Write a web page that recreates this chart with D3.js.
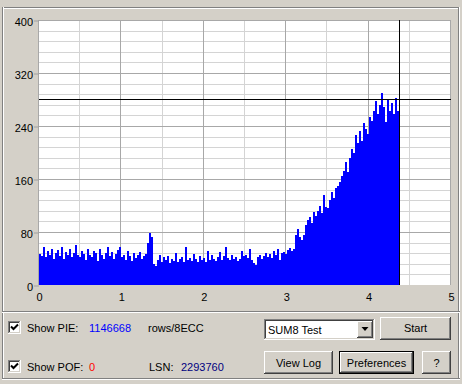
<!DOCTYPE html>
<html>
<head>
<meta charset="utf-8">
<script src="https://cdn.jsdelivr.net/npm/d3@7/dist/d3.min.js"></script>
<style>
  body { margin: 0; background: #d4d0c8; overflow: hidden; }
  svg text { font-family: "Liberation Sans", Arial, sans-serif; font-size: 11px; fill: #000; }
</style>
</head>
<body>
<div id="chart"></div>
<script>
// PIE counts per sample block (one value per ~0.024 of the x axis)
const pieValues = [
    47, 44, 57, 42, 52, 45, 55, 40, 48, 53, 44, 58, 39, 50, 46, 54, 42, 49, 60, 45,
    43, 51, 47, 38, 55, 46, 42, 52, 49, 36, 54, 45, 40, 48, 57, 44, 50, 39, 47, 53,
    58, 42, 46, 38, 52, 44, 36, 48, 41, 45, 50, 39, 44, 47,
    64, 79, 72,
    32, 28, 38, 46, 34, 42, 37, 44, 33, 40, 36, 48, 35, 39, 43, 34, 58, 38, 41, 36, 47, 40, 35,
    44, 37, 41, 35, 52, 38, 46, 40, 36, 42, 50, 38, 44, 57, 41, 37, 45, 39, 43, 36, 40, 52, 44, 46, 41, 55,
    38, 33, 30, 42, 46, 40, 44, 48, 43, 47, 41, 52, 45, 55, 38, 49,
    50, 47, 53, 56, 51, 54,
    76, 84, 72, 68, 75,
    90, 98, 103, 94, 110, 104,
    112, 120, 108, 136, 118, 116,
    128, 140, 132, 146, 150,
    155, 164, 172, 186, 170,
    192, 206, 200, 226, 214,
    232, 218, 244, 236, 228,
    254, 248, 262, 278, 258,
    272, 290, 268, 246, 280,
    262, 274, 258, 282, 262
];
const scanEnd = 4.375;          // last position read
const yTicks = [0, 80, 160, 240, 320, 400];
const xTicks = [0, 1, 2, 3, 4, 5];
const cursor = { x: 4.375, y: 280 };
const pieTotal = '1146668';
const pofTotal = '0';
const lsnValue = '2293760';
const testName = 'SUM8 Test';

const W = 462, H = 384;
const svg = d3.select('#chart').append('svg')
    .attr('width', W)
    .attr('height', H)
    .style('display', 'block');

svg.append('rect').attr('width', W).attr('height', H).attr('fill', '#d4d0c8');

// little helpers for the windows-style 3d edges
function px(g, x, y, w, h, c) {
    g.append('rect').attr('x', x).attr('y', y).attr('width', w).attr('height', h).attr('fill', c);
}
function raised(g, x, y, w, h) {
    px(g, x, y, w, h, '#d4d0c8');
    px(g, x, y, w - 1, 1, '#ffffff');
    px(g, x, y, 1, h - 1, '#ffffff');
    px(g, x, y + h - 1, w, 1, '#404040');
    px(g, x + w - 1, y, 1, h, '#404040');
    px(g, x + 1, y + h - 2, w - 2, 1, '#808080');
    px(g, x + w - 2, y + 1, 1, h - 2, '#808080');
}
function sunken(g, x, y, w, h) {
    px(g, x, y, w, h, '#ffffff');
    px(g, x, y, w - 1, 1, '#808080');
    px(g, x, y, 1, h - 1, '#808080');
    px(g, x + 1, y + 1, w - 3, 1, '#404040');
    px(g, x + 1, y + 1, 1, h - 3, '#404040');
    px(g, x + 1, y + h - 2, w - 2, 1, '#d4d0c8');
    px(g, x + w - 2, y + 1, 1, h - 2, '#d4d0c8');
}
function etchedH(g, x, y, w) {
    px(g, x, y, w, 1, '#808080');
    px(g, x, y + 1, w, 1, '#ffffff');
}
function etchedV(g, x, y, h) {
    px(g, x, y, 1, h, '#808080');
    px(g, x + 1, y, 1, h, '#ffffff');
}

// Outer frame + separator between chart and controls
const frame = svg.append('g');
etchedH(frame, 2, 7, 458);
etchedV(frame, 2, 7, 372);
etchedV(frame, 458, 7, 373);
etchedH(frame, 2, 378, 458);
etchedH(frame, 2, 311, 458);

// Scales
const x = d3.scaleLinear().domain([0, 5]).range([39, 451]);
const y = d3.scaleLinear().domain([0, 400]).range([285, 20]);

// Plot background
svg.append('rect')
    .attr('x', x(0))
    .attr('y', y(400))
    .attr('width', x(5) - x(0))
    .attr('height', y(0) - y(400))
    .attr('fill', '#ffffff');

// Grid: minor every 16 / 0.5, major on the labelled ticks
const grid = svg.append('g').attr('shape-rendering', 'crispEdges');
const snap = v => Math.round(v) - 0.5;

grid.selectAll('.hminor')
    .data(d3.range(0, 401, 16).filter(v => v % 80 !== 0))
    .join('line')
    .attr('x1', x(0)).attr('x2', x(5))
    .attr('y1', d => snap(y(d)) + 1).attr('y2', d => snap(y(d)) + 1)
    .attr('stroke', '#d4d4d4');

grid.selectAll('.vminor')
    .data(d3.range(0.5, 5, 1))
    .join('line')
    .attr('x1', d => snap(x(d))).attr('x2', d => snap(x(d)))
    .attr('y1', y(400)).attr('y2', y(0))
    .attr('stroke', '#d4d4d4');

grid.selectAll('.hmajor')
    .data(yTicks.filter(v => v > 0))
    .join('line')
    .attr('x1', x(0) - 1).attr('x2', x(5))
    .attr('y1', d => snap(y(d)) + 1).attr('y2', d => snap(y(d)) + 1)
    .attr('stroke', '#a8a8a8');

grid.selectAll('.vmajor')
    .data(xTicks)
    .join('line')
    .attr('x1', d => snap(x(d))).attr('x2', d => snap(x(d)))
    .attr('y1', y(400)).attr('y2', y(0))
    .attr('stroke', '#a8a8a8');

// PIE histogram, drawn as a stepped area
const step = scanEnd / pieValues.length;
const pts = pieValues.map((v, i) => ({ pos: i * step, v }));
pts.push({ pos: scanEnd, v: pieValues[pieValues.length - 1] });

const area = d3.area()
    .x(d => x(d.pos))
    .y0(y(0))
    .y1(d => y(d.v))
    .curve(d3.curveStepAfter);

svg.append('path')
    .datum(pts)
    .attr('fill', '#0000ff')
    .attr('shape-rendering', 'crispEdges')
    .attr('d', area);

// Cursor cross-hair
svg.append('line')
    .attr('x1', x(0)).attr('x2', x(5))
    .attr('y1', y(cursor.y)).attr('y2', y(cursor.y))
    .attr('stroke', '#000').attr('stroke-width', 1);
svg.append('line')
    .attr('x1', x(cursor.x)).attr('x2', x(cursor.x))
    .attr('y1', y(400)).attr('y2', y(0))
    .attr('stroke', '#000').attr('stroke-width', 1);

// Y axis
const yAxis = svg.append('g')
    .attr('transform', `translate(${x(0)},0.5)`)
    .call(d3.axisLeft(y).tickValues(yTicks).tickSize(5).tickPadding(1));
yAxis.select('.domain').remove();
yAxis.selectAll('line').attr('stroke', '#a0a0a0');
yAxis.selectAll('text')
    .attr('dy', '0.45em')
    .style('font-family', '"Liberation Sans", Arial, sans-serif')
    .style('font-size', '11px');

// X axis
const xAxis = svg.append('g')
    .attr('transform', `translate(0,${y(0)})`)
    .call(d3.axisBottom(x).tickValues(xTicks).tickSize(0).tickPadding(8).tickFormat(d3.format('d')));
xAxis.select('.domain').remove();
xAxis.selectAll('text')
    .style('font-family', '"Liberation Sans", Arial, sans-serif')
    .style('font-size', '11px');

// Controls
const ctl = svg.append('g');

function checkbox(cx, cy) {
    sunken(ctl, cx, cy, 13, 13);
    ctl.append('path')
        .attr('d', `M${cx + 3},${cy + 5.5} L${cx + 5.5},${cy + 8} L${cx + 10},${cy + 3.5}`)
        .attr('fill', 'none')
        .attr('stroke', '#000')
        .attr('stroke-width', 2);
}
function label(tx, ty, str, color, anchor) {
    ctl.append('text')
        .attr('x', tx).attr('y', ty)
        .attr('text-anchor', anchor || 'start')
        .style('fill', color || '#000')
        .text(str);
}

checkbox(8, 321);
label(27, 332, 'Show PIE:');
label(89, 332, pieTotal, '#0000ff');
label(148, 332, 'rows/8ECC');

checkbox(8, 360);
label(27, 371, 'Show POF:');
label(89, 371, pofTotal, '#ff0000');
label(149, 371, 'LSN:');
label(181, 371, lsnValue, '#000080');

// combo box
sunken(ctl, 264, 319, 111, 21);
raised(ctl, 357, 321, 16, 17);
ctl.append('path')
    .attr('d', 'M361.5,327 L368.5,327 L365,331 Z')
    .attr('fill', '#000');
label(268, 334, testName);

// buttons
raised(ctl, 380, 317, 71, 23);
label(415.5, 332, 'Start', '#000', 'middle');

raised(ctl, 264, 351, 69, 23);
label(298.5, 367, 'View Log', '#000', 'middle');

px(ctl, 339, 351, 75, 23, '#000000');
raised(ctl, 340, 352, 73, 21);
label(376.5, 367, 'Preferences', '#000', 'middle');

raised(ctl, 422, 351, 29, 23);
label(436.5, 367, '?', '#000', 'middle');
</script>
</body>
</html>
